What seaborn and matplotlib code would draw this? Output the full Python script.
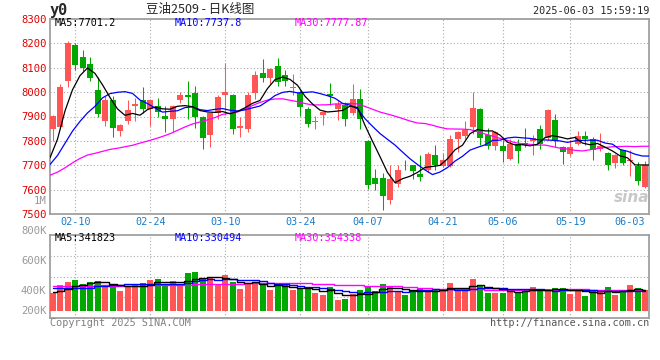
import numpy as np
import pandas as pd
import matplotlib
matplotlib.use('Agg')
import matplotlib.pyplot as plt
import matplotlib.transforms as mtrans
import seaborn as sns

sns.set_style('white')
plt.rcParams['font.family'] = ['DejaVu Sans Mono', 'Noto Sans CJK SC']

# trading days shown (Chinese holidays removed)
holidays = ['2025-04-04', '2025-05-01', '2025-05-02', '2025-05-05', '2025-06-02']
days = pd.bdate_range('2025-02-05', '2025-06-03', freq='C', holidays=holidays)
dates = [d.strftime('%m-%d') for d in days]
tick_dates = ['02-10', '02-24', '03-10', '03-24', '04-07', '04-21', '05-06', '05-19', '06-03']

open_ = [7847, 7855, 8046, 8192, 8146, 8116, 8010, 7880, 7969, 7840,
         7880, 7945, 7969, 7932, 7943, 7902, 7888, 7966, 7989, 7997,
         7899, 7823, 7915, 7990, 7989, 7853, 7850, 7997, 8079, 8059,
         8106, 8071, 8018, 7997, 7929, 7877, 7905, 7993, 7929, 7948,
         7915, 7970, 7801, 7649, 7649, 7557, 7622, 7701, 7700, 7666,
         7679, 7741, 7697, 7696, 7806, 7820, 7857, 7932, 7823, 7778,
         7779, 7724, 7789, 7793, 7798, 7850, 7813, 7884, 7775, 7748,
         7789, 7820, 7809, 7768, 7752, 7711, 7761, 7716, 7696, 7609]
high = [7905, 8034, 8210, 8203, 8173, 8143, 8061, 7986, 7986, 7870,
        7969, 7975, 8020, 7973, 7977, 7943, 7948, 8000, 8044, 8027,
        7902, 7916, 7989, 8120, 7992, 7896, 8000, 8085, 8136, 8097,
        8139, 8089, 8075, 8011, 7939, 7902, 7921, 8038, 7966, 7959,
        8034, 8011, 7805, 7686, 7670, 7700, 7700, 7720, 7702, 7743,
        7755, 7784, 7750, 7823, 7839, 7880, 8000, 7935, 7853, 7840,
        7802, 7809, 7806, 7854, 7823, 7866, 7930, 7911, 7778, 7802,
        7840, 7839, 7816, 7832, 7755, 7748, 7764, 7761, 7713, 7718]
low = [7798, 7847, 8023, 8089, 8085, 8045, 7900, 7861, 7816, 7822,
       7870, 7880, 7915, 7861, 7898, 7836, 7836, 7955, 7891, 7853,
       7768, 7775, 7891, 7905, 7829, 7816, 7836, 7973, 8041, 8033,
       8027, 8027, 7989, 7902, 7857, 7850, 7866, 7948, 7884, 7861,
       7905, 7850, 7604, 7598, 7516, 7540, 7610, 7679, 7645, 7637,
       7672, 7682, 7693, 7693, 7754, 7809, 7829, 7782, 7765, 7761,
       7714, 7720, 7709, 7775, 7741, 7768, 7805, 7775, 7704, 7737,
       7785, 7784, 7720, 7760, 7679, 7690, 7700, 7655, 7618, 7605]
close = [7903, 8022, 8200, 8113, 8101, 8059, 7911, 7966, 7853, 7866,
         7928, 7950, 7929, 7969, 7918, 7891, 7943, 7989, 7982, 7896,
         7812, 7914, 7980, 8000, 7850, 7860, 7989, 8071, 8059, 8095,
         8041, 8044, 8022, 7939, 7870, 7882, 7918, 7984, 7952, 7888,
         7970, 7891, 7618, 7625, 7573, 7645, 7682, 7699, 7675, 7652,
         7748, 7700, 7723, 7809, 7836, 7843, 7935, 7812, 7778, 7836,
         7757, 7789, 7757, 7782, 7813, 7789, 7925, 7798, 7753, 7775,
         7820, 7809, 7764, 7779, 7700, 7741, 7709, 7723, 7634, 7699]
volume_k = [387, 436, 458, 471, 444, 458, 464, 436, 436, 398,
            431, 444, 451, 471, 478, 431, 464, 436, 518, 524,
            484, 491, 436, 504, 458, 411, 449, 458, 436, 404,
            431, 436, 404, 411, 418, 384, 371, 424, 338, 344,
            378, 404, 422, 398, 444, 431, 398, 371, 391, 411,
            404, 411, 398, 451, 411, 411, 478, 438, 384, 384,
            384, 404, 391, 411, 424, 398, 411, 418, 418, 378,
            398, 367, 396, 396, 424, 371, 391, 438, 418, 404]

# sessions before the window, only needed to seed the moving averages
pre_close = [7640, 7668, 7500, 7561, 7639, 7701, 7726, 7613, 7716, 7748,
             7770, 7659, 7720, 7648, 7591, 7613, 7569, 7562, 7536, 7560,
             7652, 7700, 7613, 7701, 7711, 7640, 7620, 7680, 7810]
pre_volume_k = [430, 445, 420, 450, 440, 425, 435, 455, 430, 440,
                420, 445, 435, 440, 430, 450, 425, 440, 435, 440,
                440, 460, 455, 450, 450, 380, 400, 390, 388]
vol_ma_text = {'MA5': 341823, 'MA10': 330494, 'MA30': 354338}

UP, DOWN = '#ff5555', '#00a800'
ma_colors = {5: 'black', 10: '#0000ff', 30: '#ff00ff'}
GRID = dict(color='#aaaaaa', linestyle=(0, (1, 2)), linewidth=0.8)

o, h, l, c = map(np.array, (open_, high, low, close))
vol = np.array(volume_k) * 1000
x = np.arange(len(c))
cols = np.where(c >= o, UP, DOWN)

fig = plt.figure(figsize=(6.6, 3.6), dpi=100)
ax = fig.add_axes([50/660, 1 - 214/360, 599/660, 195/360])
vax = fig.add_axes([50/660, 1 - 318.3/360, 599/660, 83.6/360])

# candles
ax.vlines(x, l, h, colors=cols, lw=0.75, zorder=3)
ax.bar(x, np.maximum(np.abs(c - o), 4), bottom=np.minimum(o, c), width=0.8,
       color=cols, linewidth=0, zorder=3)

full_c = pd.Series(pre_close + close, dtype=float)
ma = {n: full_c.rolling(n).mean().to_numpy()[len(pre_close):] for n in (5, 10, 30)}
xlim = (-0.4, 79.47)
line_x = np.append(x - 0.4, xlim[1])
for n in (30, 10, 5):
    sns.lineplot(x=line_x, y=np.append(ma[n], ma[n][-1]), ax=ax, color=ma_colors[n],
                 lw=0.9, legend=False, zorder=4, sort=False)

ticks = [dates.index(d) for d in tick_dates]
for a in (ax, vax):
    a.set_xlim(*xlim)
    a.set_xticks(ticks)
    a.grid(True, axis='x', **GRID)
    a.xaxis.get_gridlines()[-1].set_visible(False)
    for s in a.spines.values():
        s.set_color('#a0a0a0')
        s.set_linewidth(1.3)
    a.set_axisbelow(True)

ax.set_ylim(7500, 8300)
ax.set_yticks(range(7500, 8301, 100))
ax.grid(True, axis='y', **GRID)
ax.set_xticklabels(tick_dates)
ax.xaxis.get_majorticklabels()[-1].set_horizontalalignment('right')
ax.tick_params(axis='y', length=0, pad=2.5, labelsize=7.6, labelcolor='#e00000')
ax.tick_params(axis='x', length=0, pad=2.5, labelsize=7.3, labelcolor='#1a7cc8')

blend = mtrans.blended_transform_factory(ax.transAxes, ax.transData)
ax.text(-0.006, 7553, '1M', transform=blend, ha='right', va='center',
        color='#999999', fontsize=7.6)

ax.text(0.0083, 0.977, f'MA5:{ma[5][-1]:.1f}', transform=ax.transAxes,
        color=ma_colors[5], fontsize=7.3, va='center')
ax.text(0.2087, 0.977, f'MA10:{ma[10][-1]:.1f}', transform=ax.transAxes,
        color=ma_colors[10], fontsize=7.3, va='center')
ax.text(0.409, 0.977, f'MA30:{ma[30][-1]:.2f}', transform=ax.transAxes,
        color=ma_colors[30], fontsize=7.3, va='center')
ax.text(1.0, 0.045, 'sina', transform=ax.transAxes, ha='right', va='bottom',
        fontsize=11, style='italic', fontweight='bold', color='#c8c8c8',
        family='DejaVu Sans', zorder=1)

# volume panel
vol_lo, vol_hi, vol_base = 216000, 773000, 267000
vax.set_ylim(vol_lo, vol_hi)
vax.bar(x, vol - vol_base, bottom=vol_base, width=0.8, color=cols, linewidth=0, zorder=3)
full_v = pd.Series(pre_volume_k + volume_k, dtype=float) * 1000
for n in (30, 10, 5):
    vma = full_v.rolling(n).mean().to_numpy()[len(pre_volume_k):]
    sns.lineplot(x=x, y=vma, ax=vax, color=ma_colors[n], lw=1.0, legend=False,
                 drawstyle='steps-mid', zorder=4)
for yv in np.linspace(vol_lo, vol_hi, 5)[1:4]:
    vax.axhline(yv, zorder=0, **GRID)
vax.set_yticks([])
vax.tick_params(axis='x', length=0, labelbottom=False)
vblend = mtrans.blended_transform_factory(vax.transAxes, vax.transData)
for val, lab in zip([800000, 600000, 400000, vol_base], ['800K', '600K', '400K', '200K']):
    vax.text(-0.006, val, lab, transform=vblend, ha='right', va='center',
             color='#999999', fontsize=7.6, clip_on=False)
vax.text(0.0083, 0.955, f"MA5:{vol_ma_text['MA5']}", transform=vax.transAxes,
         color=ma_colors[5], fontsize=7.3, va='center')
vax.text(0.2087, 0.955, f"MA10:{vol_ma_text['MA10']}", transform=vax.transAxes,
         color=ma_colors[10], fontsize=7.3, va='center')
vax.text(0.409, 0.955, f"MA30:{vol_ma_text['MA30']}", transform=vax.transAxes,
         color=ma_colors[30], fontsize=7.3, va='center')

# header / footer
fig.text(50/660, 1 - 10/360, 'y0', fontsize=11, fontweight='bold', va='center')
fig.text(200/660, 1 - 9.5/360, '豆油2509 - 日K线图', ha='center', va='center',
         fontsize=9, family=['Noto Sans CJK SC', 'DejaVu Sans'])
fig.text(649/660, 1 - 11.5/360, '2025-06-03 15:59:19', ha='right', va='center', fontsize=7.3)
fig.text(50/660, 1 - 323/360, 'Copyright 2025 SINA.COM', color='#808080',
         fontsize=7.3, va='center')
fig.text(649/660, 1 - 323.5/360, 'http://finance.sina.com.cn', color='#555555',
         fontsize=7.3, va='center', ha='right')

fig.savefig('out.png', dpi=100)
